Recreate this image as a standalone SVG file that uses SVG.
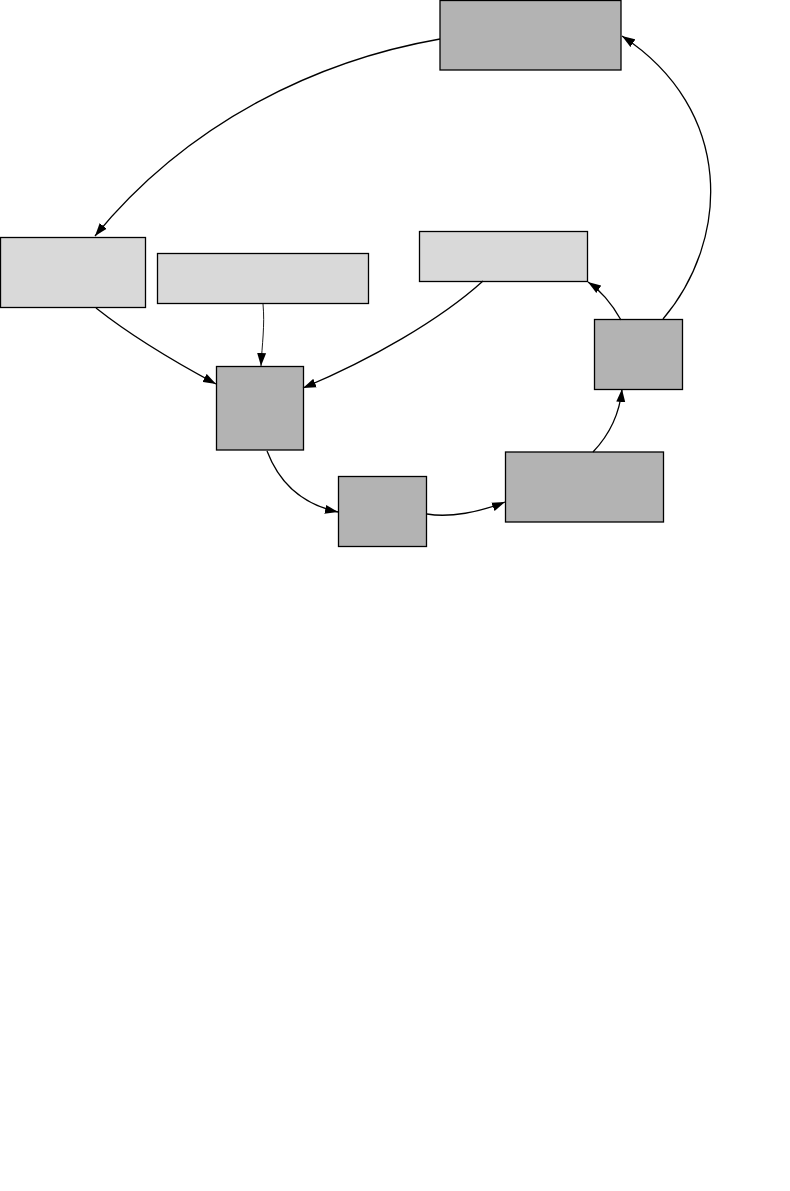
<svg xmlns="http://www.w3.org/2000/svg" width="790" height="1191" viewBox="0 0 790 1191">
<style>
.dark{fill:#b3b3b3;stroke:#000;stroke-width:1.3}
.light{fill:#d9d9d9;stroke:#000;stroke-width:1.3}
.edge{fill:none;stroke:#000;stroke-width:1.3}
.thin{stroke-width:0.9}
</style>
<defs>
<marker id="arr" markerUnits="userSpaceOnUse" markerWidth="14" markerHeight="10" refX="13" refY="4.5" orient="auto" viewBox="0 0 14 9">
<path d="M0,0 L13,4.5 L0,9 z" fill="#000"/>
</marker>
</defs>
<rect width="790" height="1191" fill="#fff"/>
<g id="nodeA"><rect class="dark" x="440" y="0.5" width="181" height="69.5"/></g>
<g id="nodeB"><rect class="light" x="0.5" y="237.5" width="145" height="70"/></g>
<g id="nodeC"><rect class="light" x="157.5" y="253.5" width="211" height="50"/></g>
<g id="nodeD"><rect class="dark" x="216.5" y="366.5" width="87" height="83.5"/></g>
<g id="nodeE"><rect class="dark" x="338.5" y="476.5" width="88" height="70"/></g>
<g id="nodeF"><rect class="dark" x="505.5" y="452" width="158" height="70"/></g>
<g id="nodeG"><rect class="light" x="419.5" y="231.5" width="168" height="50"/></g>
<g id="nodeH"><rect class="dark" x="594.5" y="319.5" width="88" height="70"/></g>
<g id="connectors">
<path class="edge" d="M440,39 C320,60 190,120 95,236" marker-end="url(#arr)"/>
<path class="edge" d="M96,308 C130,335 175,362 216,384" marker-end="url(#arr)"/>
<path class="edge thin" d="M263,304 C265,325 262,345 261,366" marker-end="url(#arr)"/>
<path class="edge" d="M483,281 C440,320 370,360 303,388" marker-end="url(#arr)"/>
<path class="edge" d="M267,451 C280,485 305,505 338,512" marker-end="url(#arr)"/>
<path class="edge" d="M427,514 C450,518 480,512 505,502" marker-end="url(#arr)"/>
<path class="edge" d="M593,452 C612,432 620,410 622,389" marker-end="url(#arr)"/>
<path class="edge" d="M621,320 C612,304 600,290 588,282" marker-end="url(#arr)"/>
<path class="edge" d="M663,319 C730,240 735,110 622,36" marker-end="url(#arr)"/>
</g>
</svg>
